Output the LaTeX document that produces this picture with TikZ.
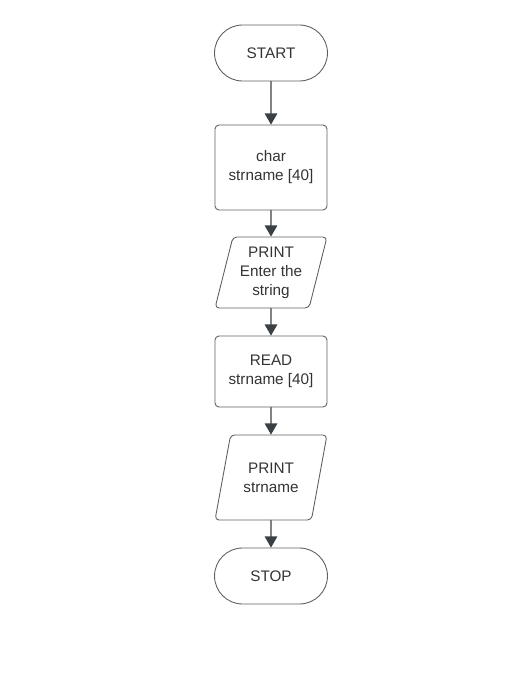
\documentclass[tikz,border=0pt]{standalone}
\usepackage{fontspec}
\setmainfont{Liberation Sans}
\usetikzlibrary{arrows}
\usetikzlibrary{shapes.geometric,shapes.misc}

\definecolor{boxline}{HTML}{5B5F63}
\definecolor{flowline}{HTML}{3B4045}
\definecolor{boxtext}{HTML}{333333}

\tikzset{
  flowtext/.style={text=boxtext, font=\fontsize{8.7}{10.8}\selectfont, align=center, inner sep=2pt},
  termbox/.style={flowtext, rounded rectangle, draw=boxline, line width=0.5pt, minimum width=2.40cm, minimum height=1.12cm},
  procbox/.style={flowtext, rectangle, rounded corners=0.08cm, draw=boxline, line width=0.5pt, minimum width=2.24cm},
  iobox/.style={flowtext, trapezium, trapezium left angle=#1, trapezium right angle={180-#1}, trapezium stretches body, rounded corners=0.08cm, draw=boxline, line width=0.5pt, minimum width=2.24cm},
  flowarrow/.style={draw=flowline, line width=0.7pt, -triangle 60}
}

\begin{document}
\begin{tikzpicture}[x=0.02cm, y=-0.02cm, line cap=round, line join=round]

\useasboundingbox (0,0) rectangle (531,673);

% Flowchart blocks
\node[termbox] (start) at (271,53) {START};
\node[procbox, minimum height=1.70cm] (decl) at (271,167.5) {char\\strname [40]};
\node[iobox=73, minimum height=1.42cm] (ask) at (271,272.5) {PRINT\\Enter the\\string};
\node[procbox, minimum height=1.42cm] (read) at (271,371.5) {READ\\strname [40]};
\node[iobox=67, minimum height=1.70cm] (show) at (271,477.5) {PRINT\\strname};
\node[termbox] (stop) at (271,576) {STOP};

% Arrows
\draw[flowarrow] (start) -- (decl);
\draw[flowarrow] (decl) -- (ask);
\draw[flowarrow] (ask) -- (read);
\draw[flowarrow] (read) -- (show);
\draw[flowarrow] (show) -- (stop);

\end{tikzpicture}
\end{document}
